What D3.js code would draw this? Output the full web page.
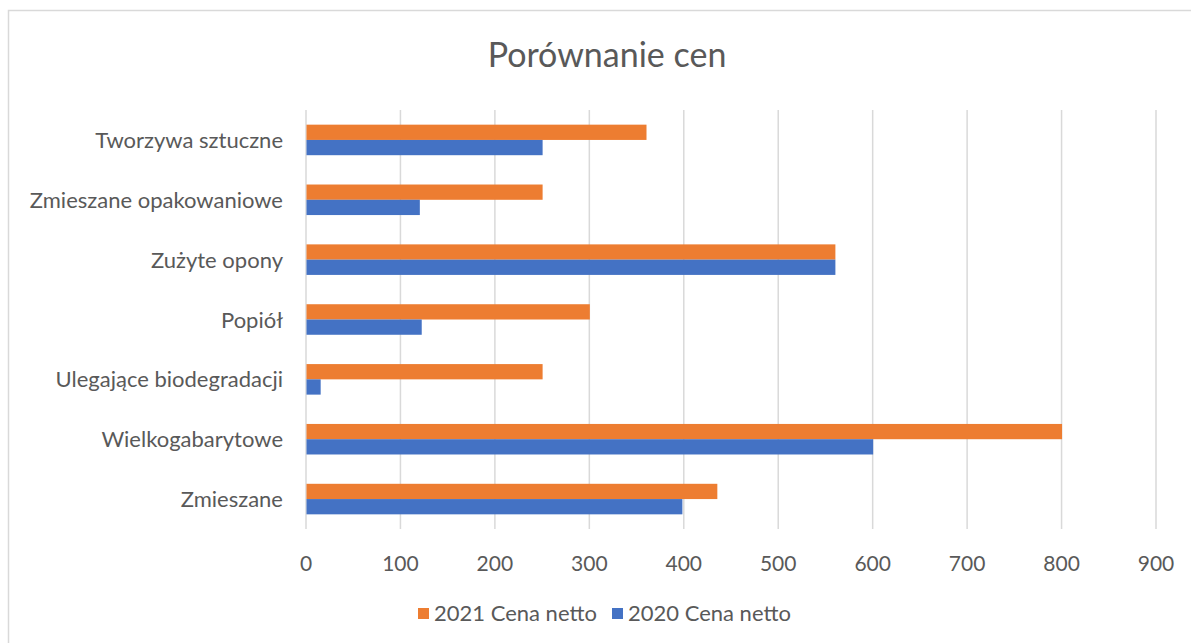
<!DOCTYPE html>
<html>
<head>
<meta charset="utf-8">
<script src="https://cdn.jsdelivr.net/npm/d3@7"></script>
<style>
    body { margin: 0; background: #fff; }
    text { font-family: Lato, "Open Sans", sans-serif; fill: #595959; }
</style>
</head>
<body>
<div id="chart"></div>
<script>
const categories = [
    'Tworzywa sztuczne',
    'Zmieszane opakowaniowe',
    'Zużyte opony',
    'Popiół',
    'Ulegające biodegradacji',
    'Wielkogabarytowe',
    'Zmieszane'
];
const seriesNames = ['2021 Cena netto', '2020 Cena netto'];
const values2021 = [360, 250, 560, 300, 250, 800, 435];
const values2020 = [250, 120, 560, 122, 15, 600, 398];
const xTicks = [0, 100, 200, 300, 400, 500, 600, 700, 800, 900];
const colors = ['#ED7D31', '#4472C4'];

const width = 1191;
const height = 643;
const margin = { left: 306, right: 35, top: 110, bottom: 114 };

const svg = d3
    .select('#chart')
    .append('svg')
    .attr('width', width)
    .attr('height', height);

// chart border
svg.append('rect')
    .attr('x', 8.5)
    .attr('y', 10.5)
    .attr('width', width + 10)
    .attr('height', height + 10)
    .attr('fill', 'none')
    .attr('stroke', '#D9D9D9')
    .attr('stroke-width', 1.5);

svg.append('text')
    .attr('x', 607)
    .attr('y', 67)
    .attr('text-anchor', 'middle')
    .style('font-size', '34px')
    .text('Porównanie cen');

const x = d3.scaleLinear()
    .domain([0, 900])
    .range([margin.left, width - margin.right]);

const y = d3.scaleBand()
    .domain(categories)
    .range([margin.top, height - margin.bottom]);

const inner = d3.scaleBand()
    .domain(seriesNames)
    .range([0, y.bandwidth()])
    .paddingOuter(0.96);

// gridlines
svg.append('g')
    .selectAll('line')
    .data(xTicks)
    .enter()
    .append('line')
    .attr('x1', d => x(d))
    .attr('x2', d => x(d))
    .attr('y1', margin.top)
    .attr('y2', height - margin.bottom)
    .attr('stroke', '#D9D9D9')
    .attr('stroke-width', 1.5);

// x tick labels
svg.append('g')
    .selectAll('text')
    .data(xTicks)
    .enter()
    .append('text')
    .attr('x', d => x(d))
    .attr('y', 571)
    .attr('text-anchor', 'middle')
    .style('font-size', '21px')
    .text(d => d);

// category labels
svg.append('g')
    .selectAll('text')
    .data(categories)
    .enter()
    .append('text')
    .attr('x', 283)
    .attr('y', d => y(d) + y.bandwidth() / 2 + 8)
    .attr('text-anchor', 'end')
    .style('font-size', '22px')
    .text(d => d);

const rows = categories.map((c, i) => ({
    category: c,
    values: [values2021[i], values2020[i]]
}));

const group = svg.append('g')
    .selectAll('g')
    .data(rows)
    .enter()
    .append('g')
    .attr('transform', d => 'translate(0,' + y(d.category) + ')');

group.selectAll('rect')
    .data(d => d.values.map((v, k) => ({ name: seriesNames[k], value: v, k: k })))
    .enter()
    .append('rect')
    .attr('x', x(0) + 0.5)
    .attr('y', d => inner(d.name))
    .attr('width', d => x(d.value) - x(0))
    .attr('height', inner.bandwidth())
    .attr('fill', d => colors[d.k]);

// legend
const legendX = [418, 612];
const legend = svg.append('g')
    .selectAll('g')
    .data(seriesNames)
    .enter()
    .append('g')
    .attr('transform', (d, i) => 'translate(' + legendX[i] + ',608)');

legend.append('rect')
    .attr('width', 11)
    .attr('height', 11)
    .attr('fill', (d, i) => colors[i]);

legend.append('text')
    .attr('x', 16)
    .attr('y', 13)
    .style('font-size', '22px')
    .text(d => d);
</script>
</body>
</html>
